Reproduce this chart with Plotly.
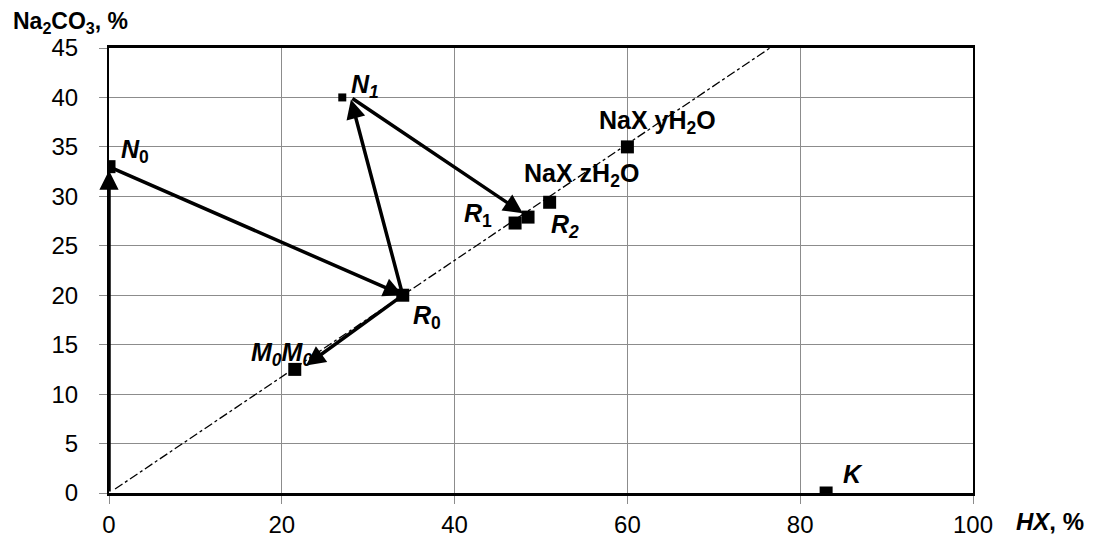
import plotly.graph_objects as go

# ---- data ----
point_names = ["N0", "N1", "R0", "M0", "R1", "R2", "NaX zH2O", "NaX yH2O", "K"]
point_x = [0, 27, 34, 21.5, 47, 48.5, 51, 60, 83]
point_y = [33, 40, 20, 12.5, 27.3, 27.9, 29.4, 35, 0]
point_size = [13, 8, 13, 13, 13, 13, 13, 13, 13]

# dash-dot ray
ray_x = [0.7, 76.5]
ray_y = [0.4, 45]

# arrows: tail -> head
arrow_tail_x = [0, 0, 34, 28, 34]
arrow_tail_y = [0, 33, 20, 40, 20]
arrow_head_x = [0, 34, 28, 47.9, 22.8]
arrow_head_y = [32.6, 20, 39.8, 28.3, 12.9]

# point labels
label_text = ["<i>N</i><sub>0</sub>", "<i>N<sub>1</sub></i>", "<i>R</i><sub>0</sub>",
              "<i>M<sub>0</sub>M<sub>0</sub></i>", "<i>R</i><sub>1</sub>", "<i>R<sub>2</sub></i>",
              "NaX zH<sub>2</sub>O", "NaX yH<sub>2</sub>O", "<i>K</i>"]
label_x = [1.1, 27.8, 35.0, 16.2, 40.8, 50.9, 47.8, 56.5, 84.7]
label_y = [34.6, 41.2, 17.8, 14.1, 28.1, 27.0, 32.2, 37.5, 1.9]

x_ticks = [0, 20, 40, 60, 80, 100]
y_ticks = [0, 5, 10, 15, 20, 25, 30, 35, 40, 45]

FONT = "Liberation Sans, Arial, sans-serif"

fig = go.Figure()
fig.add_trace(go.Scatter(x=ray_x, y=ray_y, mode="lines",
                         line=dict(color="black", width=1.3, dash="dashdot"),
                         hoverinfo="skip", showlegend=False))
fig.add_trace(go.Scatter(x=point_x, y=point_y, mode="markers", text=point_names,
                         marker=dict(symbol="square", color="black", size=point_size,
                                     opacity=1, line=dict(width=0, color="black")),
                         showlegend=False))

for tx, ty, hx, hy in zip(arrow_tail_x, arrow_tail_y, arrow_head_x, arrow_head_y):
    fig.add_annotation(x=hx, y=hy, ax=tx, ay=ty, xref="x", yref="y", axref="x", ayref="y",
                       showarrow=True, arrowhead=2, arrowsize=1.1, arrowwidth=3.5,
                       arrowcolor="black", standoff=0, startstandoff=0, text="")

for t, lx, ly in zip(label_text, label_x, label_y):
    fig.add_annotation(x=lx, y=ly, xref="x", yref="y", text="<b>" + t + "</b>",
                       showarrow=False, xanchor="left", yanchor="middle",
                       font=dict(family=FONT, size=25, color="black"))

fig.add_annotation(x=-0.113, y=1.058, xref="paper", yref="paper",
                   text="<b>Na<sub>2</sub>CO<sub>3</sub>, %</b>", showarrow=False,
                   xanchor="left", yanchor="middle",
                   font=dict(family=FONT, size=23, color="black"))
fig.add_annotation(x=1.047, y=-0.063, xref="paper", yref="paper",
                   text="<b><i>HX</i>, %</b>", showarrow=False,
                   xanchor="left", yanchor="middle",
                   font=dict(family=FONT, size=24, color="black"))

fig.update_xaxes(range=[0, 100], tickvals=x_ticks, showgrid=True, gridcolor="#8c8c8c",
                 gridwidth=1, zeroline=False, showline=True, linecolor="black", linewidth=3,
                 mirror=True, ticks="outside", ticklen=8, tickcolor="#8c8c8c",
                 tickfont=dict(family=FONT, size=24, color="black"), ticklabelstandoff=0,
                 automargin=False)
fig.update_yaxes(range=[0, 45], tickvals=y_ticks, showgrid=True, gridcolor="#8c8c8c",
                 gridwidth=1, zeroline=False, showline=True, linecolor="black", linewidth=2,
                 mirror=True, ticks="outside", ticklen=8, tickcolor="#8c8c8c",
                 tickfont=dict(family=FONT, size=24, color="black"), ticklabelstandoff=16,
                 automargin=False)

fig.update_layout(width=1095, height=537, plot_bgcolor="white", paper_bgcolor="white",
                  margin=dict(l=101, r=130, t=40, b=52, autoexpand=False), showlegend=False,
                  font=dict(family=FONT, size=24, color="black"))

fig.write_html("out.html")
